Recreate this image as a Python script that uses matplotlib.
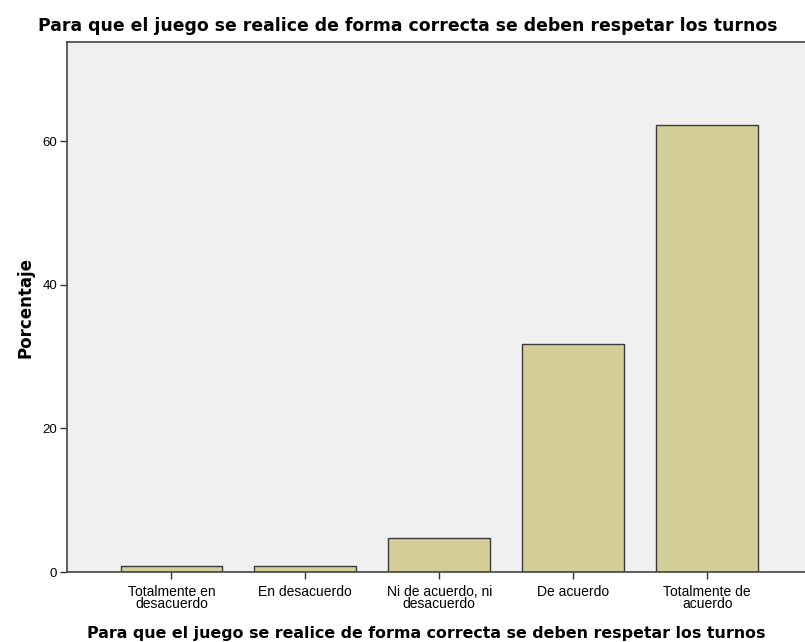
import matplotlib.pyplot as plt

plt.rcParams['font.family'] = ['Liberation Sans', 'DejaVu Sans']

# data
categories = ['Totalmente en\ndesacuerdo', 'En desacuerdo', 'Ni de acuerdo, ni\ndesacuerdo',
              'De acuerdo', 'Totalmente de\nacuerdo']
porcentaje = [0.8, 0.8, 4.7, 31.7, 62.3]
yticks = [0, 20, 40, 60]
titulo = 'Para que el juego se realice de forma correcta se deben respetar los turnos'

fig = plt.figure(figsize=(8.05, 6.42), dpi=100)
ax = fig.add_axes([0.0832, 0.109, 0.925, 0.8256])
ax.set_facecolor('#F0F0F0')

x = list(range(len(categories)))
ax.bar(x, porcentaje, width=0.76, color='#D3CE97', edgecolor='#3a3a3a', linewidth=1.0, zorder=2)

ax.set_xlim(-0.78, 4.78)
ax.set_ylim(0, 73.8)
ax.set_xticks(x)
ax.set_xticklabels(categories, fontsize=10, linespacing=0.85)
ax.set_yticks(yticks)
ax.tick_params(axis='both', direction='out', length=5, width=1, colors='#333333', labelcolor='black')
ax.tick_params(axis='y', labelsize=9.5, pad=2)
ax.tick_params(axis='x', pad=4)

ax.spines['right'].set_visible(False)
for side in ['left', 'top', 'bottom']:
    ax.spines[side].set_color('#444444')
    ax.spines[side].set_linewidth(1.2)

ax.set_ylabel('Porcentaje', fontsize=12, fontweight='bold', labelpad=6, family='DejaVu Sans')
# x label and title drawn as figure text to match the original placement
fig.text(0.530, 0.0065, titulo, ha='center', va='baseline', fontsize=11.4, fontweight='bold',
         family='DejaVu Sans')
fig.text(0.506, 0.952, titulo, ha='center', va='baseline', fontsize=12.4, fontweight='bold',
         family='DejaVu Sans')

plt.savefig('out.png', dpi=100)
plt.close()
